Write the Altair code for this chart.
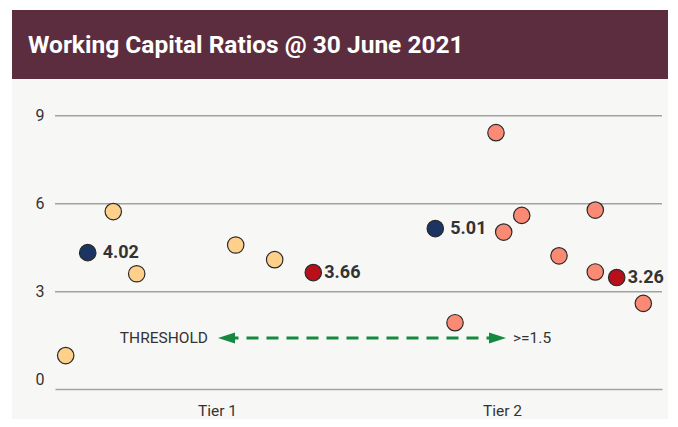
import altair as alt
import pandas as pd

# ---- data ----
title_text = "Working Capital Ratios @ 30 June 2021"
tier_names = ["Tier 1", "Tier 2"]
tier_pos = [26.69, 73.64]

tier1_pos = [1.76, 9.60, 13.46, 29.77, 36.19]
tier1_vals = [0.82, 5.73, 3.61, 4.59, 4.09]
tier2_pos = [65.90, 72.65, 73.92, 76.89, 83.03, 89.01, 89.01, 96.92]
tier2_vals = [1.94, 8.42, 5.03, 5.60, 4.22, 5.78, 3.67, 2.60]

avg_pos = [5.39, 62.65]
avg_vals = [4.33, 5.15]
avg_labels = ["4.02", "5.01"]
med_pos = [42.55, 92.54]
med_vals = [3.65, 3.48]
med_labels = ["3.66", "3.26"]

grid_values = [3, 6, 9]
y_ticks = [0, 3, 6, 9]
threshold_y = 1.42
arrow_pos = [28.25, 72.9]
threshold_labels = ["THRESHOLD", ">=1.5"]
threshold_label_pos = [25.2, 75.45]

groups = ["Tier 1", "Tier 2", "Average", "Median"]
group_colors = ["#fed08a", "#fb8a74", "#1c3461", "#b80f1a"]

# ---- layout ----
W, H = 607, 288
PL, PT, PR, PB = 47, 93, 6, 30
BG = "#f7f7f5"
BAR = "#5c2d3e"
GRID = "#a2a2a2"
TXT = "#333333"
GREEN = "#15893f"
FONT = "Roboto"

pts = pd.DataFrame(
    [{"x": x, "y": y, "g": "Tier 1"} for x, y in zip(tier1_pos, tier1_vals)]
    + [{"x": x, "y": y, "g": "Tier 2"} for x, y in zip(tier2_pos, tier2_vals)]
    + [{"x": x, "y": y, "g": "Average"} for x, y in zip(avg_pos, avg_vals)]
    + [{"x": x, "y": y, "g": "Median"} for x, y in zip(med_pos, med_vals)]
)
avg_df = pd.DataFrame({"x": avg_pos, "y": avg_vals, "t": avg_labels})
med_df = pd.DataFrame({"x": med_pos, "y": med_vals, "t": med_labels})

xs = alt.Scale(domain=[0, 100], nice=False, zero=False)
ys = alt.Scale(domain=[-0.32, 9.5], nice=False, zero=False)
xaxis = alt.Axis(
    values=tier_pos,
    labelExpr=f"datum.value < 50 ? '{tier_names[0]}' : '{tier_names[1]}'",
    domain=True, domainColor=GRID, domainWidth=1.5, ticks=False, grid=False,
    labelPadding=14, labelFontSize=15.5, labelColor=TXT, labelFont=FONT,
    title=None, zindex=1,
)
yaxis = alt.Axis(
    values=y_ticks, domain=False, ticks=False, grid=False,
    labelPadding=11, labelFontSize=16, labelColor=TXT, labelFont=FONT,
    title=None, zindex=1,
)

def X(f="x"):
    return alt.X(f, type="quantitative", scale=xs, axis=xaxis)

def Y(f="y"):
    return alt.Y(f, type="quantitative", scale=ys, axis=yaxis)

one = pd.DataFrame({"a": [0]})

bg = alt.Chart(one).mark_rect(color=BG).encode(
    x=alt.value(12 - 8 - PL), x2=alt.value(W + PR),
    y=alt.value(10 - 8 - PT), y2=alt.value(H + PB),
)
bar = alt.Chart(one).mark_rect(color=BAR).encode(
    x=alt.value(12 - 8 - PL), x2=alt.value(W + PR),
    y=alt.value(10 - 8 - PT), y2=alt.value(79 - 8 - PT),
)
ttl = alt.Chart(one).mark_text(
    text=title_text, align="left", baseline="alphabetic", font=FONT,
    fontSize=24.5, fontWeight="bold", color="white",
).encode(x=alt.value(28 - 8 - PL), y=alt.value(53 - 8 - PT))

grid = alt.Chart(pd.DataFrame({"y": grid_values})).mark_rule(
    color=GRID, strokeWidth=1.5
).encode(y=Y())

thr = pd.DataFrame({"x": [arrow_pos[0]], "x2": [arrow_pos[1]], "y": [threshold_y]})
rule = alt.Chart(thr).mark_rule(
    color=GREEN, strokeWidth=3, strokeDash=[12, 8]
).encode(x=X(), x2="x2", y=Y())
la = alt.Chart(pd.DataFrame({"x": [arrow_pos[0]], "y": [threshold_y]})).mark_point(
    shape="M-1,0L1,-0.65L1,0.65Z", size=289, filled=True, color=GREEN, opacity=1
).encode(x=X(), y=Y())
ra = alt.Chart(pd.DataFrame({"x": [arrow_pos[1]], "y": [threshold_y]})).mark_point(
    shape="M1,0L-1,-0.65L-1,0.65Z", size=289, filled=True, color=GREEN, opacity=1
).encode(x=X(), y=Y())

tl = pd.DataFrame({"x": threshold_label_pos, "y": [threshold_y] * 2, "t": threshold_labels})
tl_left = alt.Chart(tl.iloc[[0]]).mark_text(
    align="right", baseline="middle", font=FONT, fontSize=15.5, color=TXT
).encode(x=X(), y=Y(), text="t:N")
tl_right = alt.Chart(tl.iloc[[1]]).mark_text(
    align="left", baseline="middle", font=FONT, fontSize=15.5, color=TXT
).encode(x=X(), y=Y(), text="t:N")

dots = alt.Chart(pts).mark_circle(
    size=270, stroke="#2a2a2a", strokeWidth=1.2, opacity=1
).encode(
    x=X(), y=Y(),
    color=alt.Color("g:N", scale=alt.Scale(domain=groups, range=group_colors), legend=None),
)

label_style = dict(align="left", baseline="middle", font=FONT, fontSize=18,
                   fontWeight="bold", color=TXT)
avg_text = alt.Chart(avg_df).mark_text(dx=15, **label_style).encode(
    x=X(), y=Y(), text="t:N")
med_text = alt.Chart(med_df).mark_text(dx=11, **label_style).encode(
    x=X(), y=Y(), text="t:N")

chart = alt.layer(
    bg, bar, ttl, grid, rule, la, ra, tl_left, tl_right, dots, avg_text, med_text
).properties(
    width=W, height=H,
    autosize=alt.AutoSizeParams(type="none"),
    padding={"left": PL, "top": PT, "right": PR, "bottom": PB},
    background="white",
).configure_view(stroke=None)

chart.save("out.html", embed_options={"renderer": "svg", "actions": False})
